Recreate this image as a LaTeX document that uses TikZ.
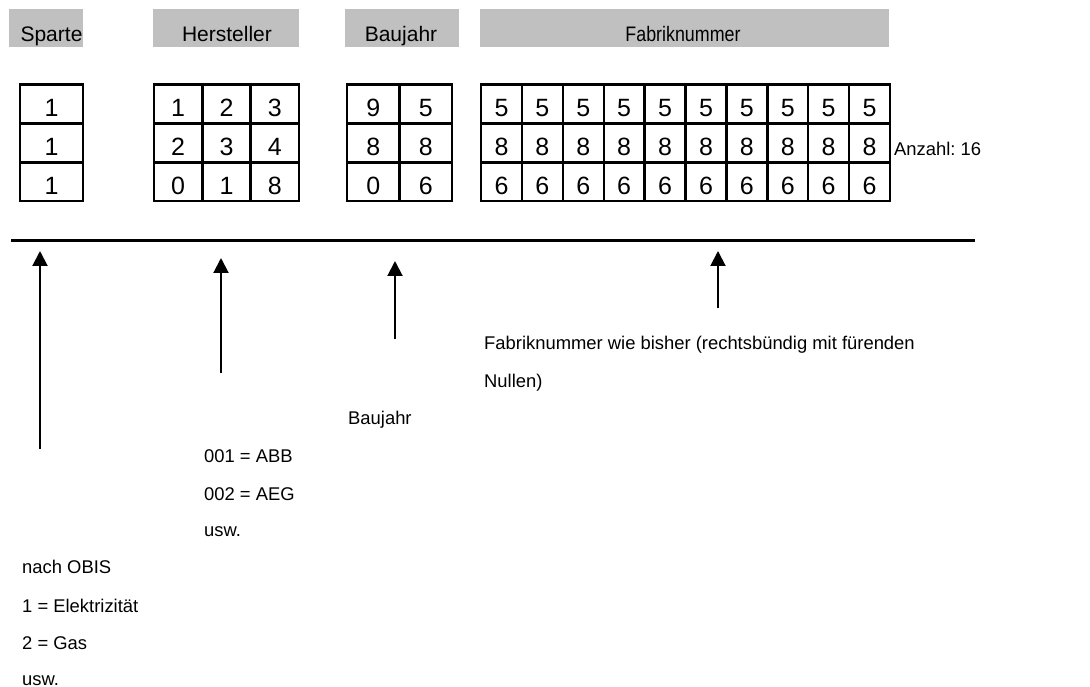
\documentclass[tikz,border=0pt]{standalone}
\usepackage{fontspec}
\usepackage{graphicx}
\setmainfont{Liberation Sans}
\usetikzlibrary{arrows.meta}
\definecolor{hdrgray}{HTML}{C0C0C0}
\frenchspacing
\tikzset{
  hdrbox/.style={fill=hdrgray, draw=none, inner sep=0pt, minimum height=38pt},
  hdrtext/.style={inner sep=0pt, anchor=base, font=\fontsize{21}{21}\selectfont},
  cell/.style={draw, line width=2.4pt, inner sep=0pt, minimum height=38.9pt,
    text height=25.3pt, text depth=0pt, font=\fontsize{25}{25}\selectfont},
  lbl/.style={inner sep=0pt, anchor=base west, font=\fontsize{18.4}{18.4}\selectfont},
  uparrow/.style={line width=2pt, -{Triangle[length=15pt,width=15pt]}},
}
\begin{document}
\begin{tikzpicture}[x=1pt,y=-1pt]
\useasboundingbox (0,0) rectangle (1090,687);

% header boxes
\node[hdrbox, minimum width=74pt] (hS) at (46,28) {};
\node[hdrbox, minimum width=146pt] (hH) at (226,28) {};
\node[hdrbox, minimum width=114pt] (hB) at (402,28) {};
\node[hdrbox, minimum width=409pt] (hF) at (684.5,28) {};
\node[hdrtext] (tS) at (51.5,42) {Sparte};
\node[hdrtext] (tH) at (227,42) {Hersteller};
\node[hdrtext] (tB) at (401,42) {Baujahr};
\node[hdrtext] (tF) at (683,42) {\scalebox{0.85}[1]{Fabriknummer}};

% Sparte
\foreach \row/\yy in {1/104, 2/142.9, 3/181.8} {
  \node[cell, minimum width=63pt] (s\row) at (51.5,\yy) {1};
}
% Hersteller
\foreach \row/\yy/\da/\db/\dc in {1/104/1/2/3, 2/142.9/2/3/4, 3/181.8/0/1/8} {
  \node[cell, minimum width=48.3pt] (h\row a) at (178.15,\yy) {\da};
  \node[cell, minimum width=48.3pt] (h\row b) at (226.45,\yy) {\db};
  \node[cell, minimum width=48.3pt] (h\row c) at (274.75,\yy) {\dc};
}
% Baujahr
\foreach \row/\yy/\da/\db in {1/104/9/5, 2/142.9/8/8, 3/181.8/0/6} {
  \node[cell, minimum width=52.5pt] (b\row a) at (373.25,\yy) {\da};
  \node[cell, minimum width=52.5pt] (b\row b) at (425.75,\yy) {\db};
}
% Fabriknummer
\foreach \row/\yy/\dig in {1/104/5, 2/142.9/8, 3/181.8/6} {
  \foreach \c in {0,...,9} {
    \node[cell, minimum width=40.9pt] (f\row-\c) at ({481+40.9*(\c+0.5)},\yy) {\dig};
  }
}
\node[lbl] (anz) at (894,156) {Anzahl: 16};

% horizontal rule
\coordinate (rl) at (11,241);
\coordinate (rr) at (975,241);
\draw[line width=3pt] (rl) -- (rr);

% arrows
\coordinate (a1s) at (40,449);   \coordinate (a1e) at (40,251);
\coordinate (a2s) at (221,373);  \coordinate (a2e) at (221,258);
\coordinate (a3s) at (395,339);  \coordinate (a3e) at (395,261);
\coordinate (a4s) at (718,308);  \coordinate (a4e) at (718,251);
\draw[uparrow] (a1s) -- (a1e);
\draw[uparrow] (a2s) -- (a2e);
\draw[uparrow] (a3s) -- (a3e);
\draw[uparrow] (a4s) -- (a4e);

% labels
\node[lbl] (lf1) at (484,349) {Fabriknummer wie bisher (rechtsbündig mit fürenden};
\node[lbl] (lf2) at (484,387) {Nullen)};
\node[lbl] (lb) at (348,424) {Baujahr};
\node[lbl] (lh1) at (204,462) {001 = ABB};
\node[lbl] (lh2) at (204,500) {002 = AEG};
\node[lbl] (lh3) at (204,536) {usw.};
\node[lbl] (ls1) at (22,573) {nach OBIS};
\node[lbl] (ls2) at (22,612) {1 = Elektrizität};
\node[lbl] (ls3) at (22,649) {2 = Gas};
\node[lbl] (ls4) at (22,685) {usw.};
\end{tikzpicture}
\end{document}
